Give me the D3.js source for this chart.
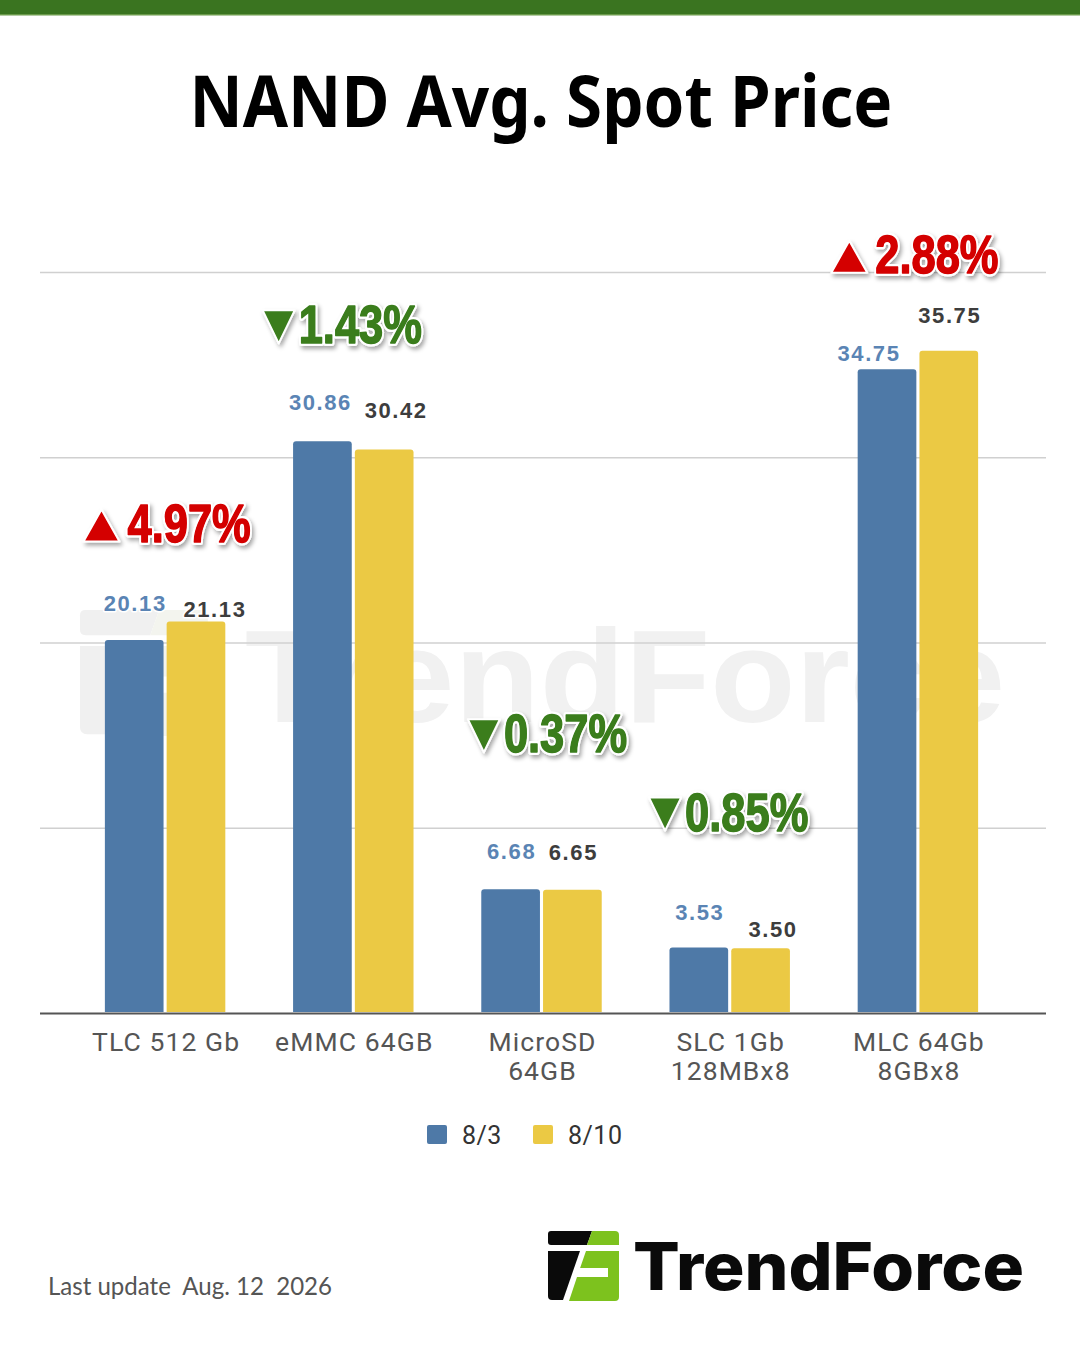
<!DOCTYPE html>
<html>
<head>
<meta charset="utf-8">
<script src="https://cdn.jsdelivr.net/npm/d3@7"></script>
<style>
  html, body { margin: 0; padding: 0; background: #fff; }
  svg { display: block; }
  text { white-space: pre; }
</style>
</head>
<body>
<svg id="chart" width="1080" height="1350"></svg>
<script>
// ---------------- DATA ----------------
const categories = [["TLC 512 Gb"], ["eMMC 64GB"], ["MicroSD", "64GB"], ["SLC 1Gb", "128MBx8"], ["MLC 64Gb", "8GBx8"]];
const seriesNames = ["8/3", "8/10"];
const values83  = [20.13, 30.86, 6.68, 3.53, 34.75];
const values810 = [21.13, 30.42, 6.65, 3.50, 35.75];
const pctChange = ["4.97%", "1.43%", "0.37%", "0.85%", "2.88%"];
const pctDirection = ["up", "down", "down", "down", "up"];
const yTicks = [0, 10, 20, 30, 40];
const titleText = "NAND Avg. Spot Price";
const footerText = "Last update  Aug. 12  2026";
const brandText = "TrendForce";

// ---------------- LAYOUT (not data) ----------------
const W = 1080, H = 1350;
const plot = { left: 40, right: 1046, bandLeft: 71, bandRight: 1012, top: 272, bottom: 1013 };
const colors = { s0: "#4e79a7", s1: "#ebc944", s0Label: "#5a84b4", s1Label: "#3d3d3d",
                 up: "#d40000", down: "#3a7d1c", grid: "#d0d0d0", axis: "#555" };
// per-label nudges (collision handling in the original) [dx, gap above bar top]
const labelNudge0 = [[0, 29], [-3, 31], [0, 30], [0, 28], [-19, 8]];
const labelNudge1 = [[18, 5], [11, 31], [0, 30], [11.5, 11], [0, 28]];
// percent callout: [dx from group centre, gap above tallest bar]
const pctNudge = [[2, 80], [-11, 98], [6, 137], [-1, 117], [-3, 78]];

const svg = d3.select("#chart");

// defs
const defs = svg.append("defs");
const f = defs.append("filter").attr("id", "shadow").attr("x", "-20%").attr("y", "-30%").attr("width", "150%").attr("height", "170%");
f.append("feDropShadow").attr("dx", 2).attr("dy", 3).attr("stdDeviation", 2.2).attr("flood-color", "#000").attr("flood-opacity", 0.35);

// top band
svg.append("rect").attr("x", 0).attr("y", 0).attr("width", W).attr("height", 15).attr("fill", "#3a7420");
svg.append("rect").attr("x", 0).attr("y", 14).attr("width", W).attr("height", 1.5).attr("fill", "#6a9a4a");

// title
svg.append("text").attr("x", 541).attr("y", 127).attr("text-anchor", "middle")
  .attr("font-family", "'Noto Sans', sans-serif").attr("font-weight", 700).attr("font-size", 71)
  .attr("textLength", 703).attr("lengthAdjust", "spacingAndGlyphs")
  .attr("fill", "#000").text(titleText);

// ---------------- logo helper ----------------
function drawLogo(g, dark, green) {
  g.append("path").attr("d", "M3,0 L44,0 L39,14 L3,14 Q0,14 0,11 L0,3 Q0,0 3,0 Z").attr("fill", dark);
  g.append("path").attr("d", "M44,0 L67,0 Q71,0 71,4 L71,14 L39,14 Z").attr("fill", green);
  g.append("path").attr("d", "M0,20 L32,20 L15,69 L4,69 Q0,69 0,65 Z").attr("fill", dark);
  g.append("path").attr("d", "M38,20 L71,20 L71,66 Q71,70 67,70 L21,70 L29,46 L60,46 L60,37 L32.1,37 Z").attr("fill", green);
}

// watermark
const wm = svg.append("g").attr("class", "watermark");
drawLogo(wm.append("g").attr("transform", "translate(80,610) scale(1.8)"), "#f0f0f0", "#f3f4ee");
wm.append("text").attr("x", 245).attr("y", 722)
  .attr("font-family", "'Liberation Sans', Arial, sans-serif").attr("font-weight", 700).attr("font-size", 131)
  .attr("textLength", 760).attr("lengthAdjust", "spacingAndGlyphs")
  .attr("fill", "#f1f1f1").text(brandText);

// ---------------- scales ----------------
const idx = d3.range(categories.length);
const x0 = d3.scaleBand().domain(idx).range([plot.bandLeft, plot.bandRight]).paddingInner(0.36).paddingOuter(0.18);
const x1 = d3.scaleBand().domain([0, 1]).range([0, x0.bandwidth()]).paddingInner(0.05);
const y = d3.scaleLinear().domain([0, 40]).range([plot.bottom, plot.top]);

// gridlines
const yAxis = d3.axisLeft(y).tickValues(yTicks).tickSize(-(plot.right - plot.left)).tickFormat("");
const ga = svg.append("g").attr("transform", `translate(${plot.left},0)`).call(yAxis);
ga.select(".domain").remove();
ga.selectAll(".tick line").attr("stroke", colors.grid).attr("stroke-width", 1.5)
  .filter(d => d === 0).attr("stroke", colors.axis).attr("stroke-width", 2);

// bars
function barPath(x, w, yTop, yBot, r) {
  r = Math.min(r, (yBot - yTop));
  return `M${x},${yBot} L${x},${yTop + r} Q${x},${yTop} ${x + r},${yTop} L${x + w - r},${yTop} Q${x + w},${yTop} ${x + w},${yTop + r} L${x + w},${yBot} Z`;
}
const series = [values83, values810];
const barColors = [colors.s0, colors.s1];
const groups = svg.append("g").selectAll("g").data(idx).join("g")
  .attr("transform", i => `translate(${x0(i)},0)`);
groups.selectAll("path").data(i => [0, 1].map(s => ({ s, i, v: series[s][i] }))).join("path")
  .attr("d", d => barPath(x1(d.s), x1.bandwidth(), y(d.v), y(0) - 1, 3))
  .attr("fill", d => barColors[d.s]);

// value labels
const nudges = [labelNudge0, labelNudge1];
const labelColors = [colors.s0Label, colors.s1Label];
groups.selectAll("text.val").data(i => [0, 1].map(s => ({ s, i, v: series[s][i] }))).join("text")
  .attr("class", "val")
  .attr("x", d => x1(d.s) + x1.bandwidth() / 2 + nudges[d.s][d.i][0] + 1)
  .attr("y", d => y(d.v) - nudges[d.s][d.i][1])
  .attr("text-anchor", "middle")
  .attr("font-family", "'Liberation Sans', Arial, sans-serif").attr("font-weight", 700).attr("font-size", 22)
  .attr("letter-spacing", 1.6)
  .attr("fill", d => labelColors[d.s])
  .attr("stroke", "#fff").attr("stroke-width", 3).attr("paint-order", "stroke").attr("stroke-linejoin", "round")
  .text(d => d.v.toFixed(2));

// x axis labels
const xl = svg.append("g");
idx.forEach(i => {
  const cx = x0(i) + x0.bandwidth() / 2 + 1;
  const t = xl.append("text").attr("text-anchor", "middle")
    .attr("x", cx).attr("y", 1051)
    .attr("font-family", "Roboto, sans-serif").attr("font-size", 26.5).attr("letter-spacing", 1.1).attr("fill", "#555");
  categories[i].forEach((line, k) => {
    t.append("tspan").attr("x", cx).attr("dy", k === 0 ? 0 : 29).text(line);
  });
});

// percent callouts
const pg = svg.append("g").attr("filter", "url(#shadow)");
idx.forEach(i => {
  const up = pctDirection[i] === "up";
  const col = up ? colors.up : colors.down;
  const cx = x0(i) + x0.bandwidth() / 2 + pctNudge[i][0];
  const top = Math.min(y(values83[i]), y(values810[i]));
  const base = top - pctNudge[i][1];
  const g = pg.append("g");
  const tw = up ? 36 : 32, th = up ? 32 : 33, gap = up ? 8 : 4;
  const mk = () => g.append("text").attr("y", base)
    .attr("font-family", "'Liberation Sans', Arial, sans-serif").attr("font-weight", 700).attr("font-size", 53)
    .attr("stroke-linejoin", "round").text(pctChange[i]);
  const back = mk().attr("fill", col).attr("stroke", "#fff").attr("stroke-width", 6).attr("paint-order", "stroke");
  const natural = back.node().getComputedTextLength();
  const w = natural * 0.82;
  const front = mk().attr("fill", col).attr("stroke", col).attr("stroke-width", 1.4);
  const total = tw + gap + w;
  const sx = cx - total / 2;
  [back, front].forEach(t => t.attr("textLength", w).attr("lengthAdjust", "spacingAndGlyphs").attr("x", sx + tw + gap));
  const tri = up
    ? `M${sx},${base} L${sx + tw / 2},${base - th} L${sx + tw},${base} Z`
    : `M${sx},${base - th} L${sx + tw},${base - th} L${sx + tw / 2},${base} Z`;
  g.insert("path", "text").attr("d", tri).attr("fill", col)
    .attr("stroke", "#fff").attr("stroke-width", 2).attr("stroke-linejoin", "round");
});

// legend
const lg = svg.append("g");
const legendItems = [{ x: 427, c: colors.s0 }, { x: 533, c: colors.s1 }];
legendItems.forEach((it, k) => {
  lg.append("rect").attr("x", it.x).attr("y", 1125).attr("width", 20).attr("height", 19).attr("rx", 2).attr("fill", it.c);
  lg.append("text").attr("x", it.x + 35).attr("y", 1143.5)
    .attr("font-family", "Roboto, sans-serif").attr("font-size", 25).attr("letter-spacing", 0.5).attr("fill", "#333").text(seriesNames[k]);
});

// footer
svg.append("text").attr("x", 48).attr("y", 1295)
  .attr("font-family", "Lato, 'Open Sans', sans-serif").attr("font-size", 25)
  .attr("textLength", 284).attr("lengthAdjust", "spacingAndGlyphs")
  .attr("fill", "#555").text(footerText);

// logo
drawLogo(svg.append("g").attr("transform", "translate(548,1231)"), "#0a0a0a", "#7dc21e");
svg.append("text").attr("x", 633).attr("y", 1290)
  .attr("font-family", "Inter, 'Noto Sans', sans-serif").attr("font-weight", 800).attr("font-size", 66)
  .attr("textLength", 391).attr("lengthAdjust", "spacingAndGlyphs")
  .attr("fill", "#0a0a0a").text(brandText);
</script>
</body>
</html>
